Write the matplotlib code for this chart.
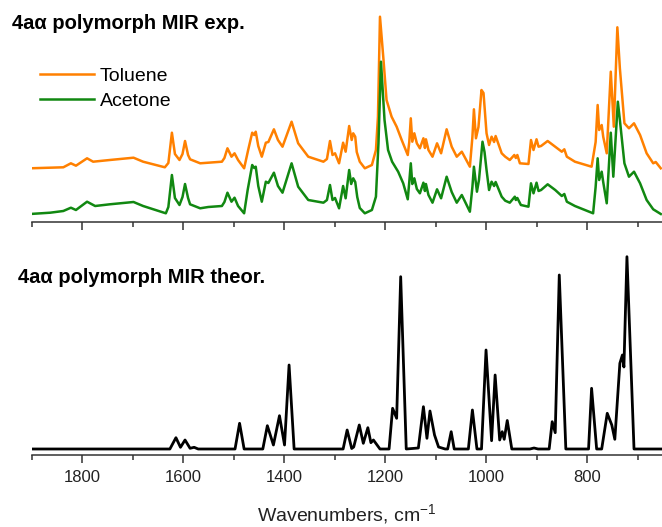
import matplotlib
matplotlib.use('Agg')
import matplotlib.pyplot as plt
from matplotlib.ticker import MultipleLocator

plt.rcParams['font.family'] = ['Liberation Sans', 'DejaVu Sans']
plt.rcParams['mathtext.fontset'] = 'custom'
plt.rcParams['mathtext.rm'] = 'Liberation Sans'
plt.rcParams['mathtext.it'] = 'Liberation Sans'

tol_wn = [1903, 1837, 1822, 1812, 1790, 1778, 1745, 1698, 1679, 1636, 1629, 1622, 1616, 1607,
          1601, 1596, 1590, 1586, 1566, 1523, 1518, 1512, 1504, 1498, 1491, 1479, 1471, 1463,
          1459, 1456, 1451, 1444, 1436, 1431, 1420, 1412, 1403, 1385, 1372, 1352, 1322, 1315,
          1309, 1304, 1299, 1291, 1283, 1278, 1271, 1266, 1263, 1259, 1256, 1250, 1240, 1226,
          1218, 1214, 1210, 1203, 1197, 1187, 1177, 1167, 1155, 1152, 1149, 1146, 1142, 1137,
          1131, 1124, 1121, 1119, 1114, 1106, 1097, 1089, 1078, 1068, 1058, 1048, 1032, 1027,
          1024, 1020, 1015, 1009, 1005, 999, 994, 989, 984, 981, 969, 962, 953, 944, 941, 938,
          933, 916, 911, 906, 900, 896, 891, 878, 863, 850, 845, 840, 824, 791, 783, 779, 776,
          771, 768, 761, 753, 747, 740, 735, 726, 717, 707, 695, 682, 669, 664, 654]
tol_abs = [53.7, 54.7, 58.7, 56.3, 63.7, 60.3, 62, 64.3, 60.3, 54.7, 59, 89.3, 68, 62,
           68, 81, 67, 62.7, 58.7, 60.3, 64, 73.7, 65.3, 68.7, 62, 53.7, 72, 89.3,
           87, 90.3, 76, 65.3, 79.3, 80, 92.7, 82, 75.3, 100.3, 78.7, 65.3, 60.3, 63,
           81, 67, 68.7, 58.7, 79.3, 70.3, 96, 82, 88.7, 85.3, 70, 60.3, 53.7, 57,
           72, 105.3, 205.3, 162, 122, 105.3, 95.3, 82, 67, 80, 103.7, 80.3, 88.7, 78.7,
           73.7, 83.7, 74, 82.7, 72, 65.3, 78.7, 68.7, 92.7, 75.3, 65.3, 70.3, 55.3, 85,
           112.7, 83.7, 95, 132, 129, 88.7, 77, 85.3, 80, 86, 68.7, 65.3, 62, 67, 64, 67,
           58.7, 58, 82, 72, 82.7, 75.3, 76, 81, 75.3, 70.3, 72.7, 65.3, 60.3, 55.3, 80, 117, 92,
           97, 85.3, 68.7, 150.3, 95.3, 194.7, 153.7, 98.7, 93.7, 98.7, 87, 68.7, 58.7, 60, 53.7]

ace_wn = [1903, 1863, 1837, 1822, 1812, 1790, 1774, 1745, 1698, 1679, 1634, 1629, 1622, 1616,
          1607, 1601, 1596, 1590, 1586, 1566, 1550, 1523, 1518, 1512, 1504, 1498, 1491, 1479,
          1472, 1463, 1459, 1456, 1451, 1444, 1436, 1431, 1420, 1412, 1403, 1385, 1372, 1352,
          1322, 1315, 1309, 1304, 1299, 1291, 1283, 1278, 1271, 1267, 1263, 1259, 1255, 1250,
          1240, 1226, 1218, 1213, 1208, 1201, 1194, 1186, 1174, 1164, 1155, 1152, 1149, 1146,
          1142, 1137, 1131, 1124, 1121, 1119, 1114, 1106, 1097, 1089, 1078, 1068, 1058, 1048,
          1032, 1027, 1024, 1018, 1014, 1007, 1003, 999, 994, 989, 984, 981, 969, 962, 953,
          943, 941, 938, 931, 916, 911, 906, 900, 896, 891, 878, 863, 850, 845, 840, 824, 788,
          783, 779, 776, 771, 768, 761, 753, 748, 739, 735, 726, 717, 707, 695, 682, 669, 654]
ace_abs = [8, 9.3, 11, 14.3, 12, 20.3, 16, 17.7, 20, 16, 8.7, 15, 47, 24,
           17, 25, 38, 24, 17.7, 13.7, 15, 16, 20, 29.3, 20.3, 24.3, 16, 8.7,
           32, 57, 54, 55.3, 36, 20.3, 40.3, 39, 49.3, 36, 29.3, 58.7, 35.3, 22,
           19.3, 22, 37, 22, 24, 13.7, 36, 23.7, 52, 38, 43.7, 40, 25, 14,
           8.7, 12, 25.3, 78.7, 160.3, 102, 72, 60.3, 50.3, 38.7, 22.7, 40, 58.7, 38,
           43.7, 33, 28.7, 39.3, 31, 38, 27, 19.3, 32.7, 23.7, 45.3, 30, 19.3, 27,
           10.3, 35, 55.3, 30.3, 42, 80.3, 70, 52, 32, 40.3, 36, 40, 25.3, 21.3, 19.3,
           25.3, 22, 24, 17, 15.3, 38.7, 28.7, 39.3, 31, 32, 37.7, 32, 26, 28, 20.3, 16, 8.7,
           35, 63.7, 42, 50.3, 40, 18.7, 89.3, 45.3, 120.3, 102, 58.7, 45.3, 50.3, 38.7, 22, 12.7, 8]

# theoretical spectrum
th_wn = [1899, 1626, 1614, 1605, 1596, 1586, 1578, 1570, 1497, 1488, 1479, 1442, 1433, 1421,
         1409, 1399, 1390, 1380, 1283, 1275, 1266, 1262, 1251, 1243, 1234, 1228, 1223, 1210,
         1192, 1185, 1177, 1169, 1158, 1134, 1124, 1117, 1111, 1102, 1094, 1081, 1076, 1069,
         1063, 1035, 1027, 1018, 1009, 1000, 989, 982, 973, 968, 964, 958, 949, 913, 905, 897,
         875, 869, 863, 855, 842, 797, 791, 781, 771, 760, 751, 745, 735, 730, 727, 721, 707, 652]
th_int = [6, 6, 17.3, 7.7, 15, 6.7, 7.7, 6, 6, 31.7, 6, 6, 29.3, 10,
          39.3, 10, 90, 6, 6, 25, 6.5, 8, 30, 11.7, 27.3, 12.3, 15, 6,
          6, 46.7, 36.7, 178.3, 6, 7, 48.3, 16.7, 44, 20, 8, 6, 6, 23.3,
          6, 6, 45, 6, 6, 105, 14.3, 80, 15, 23.3, 15.7, 34.5, 6, 6, 7, 6,
          6, 33.3, 22.3, 180, 6, 6, 66.7, 6, 6, 41.7, 30, 15.7, 91.7, 100, 88, 198.3, 6, 6]

W, H = 662, 527
fig = plt.figure(figsize=(W / 100, H / 100), dpi=100)
ax_top = fig.add_axes([31.5 / W, 305 / H, 631.3 / W, 212 / H])
ax_bot = fig.add_axes([31.5 / W, 72 / H, 631.3 / W, 205 / H])

ax_top.plot(tol_wn, tol_abs, color='#ff8000', lw=1.8, label='Toluene')
ax_top.plot(ace_wn, ace_abs, color='#118811', lw=1.8, label='Acetone')
ax_top.set_ylim(0, 212)
ax_bot.plot(th_wn, th_int, color='black', lw=2.0)
ax_bot.set_ylim(0, 205)

for ax in [ax_top, ax_bot]:
    ax.set_xlim(1900, 650)
    for s in ['top', 'left', 'right']:
        ax.spines[s].set_visible(False)
    ax.spines['bottom'].set_linewidth(1.1)
    ax.spines['bottom'].set_color('#333333')
    ax.set_yticks([])
    ax.xaxis.set_major_locator(MultipleLocator(200))
    ax.xaxis.set_minor_locator(MultipleLocator(100))
    ax.tick_params(axis='x', which='major', length=6, width=1.1, color='#333333',
                   labelsize=12, pad=5, labelcolor='#222222')
    ax.tick_params(axis='x', which='minor', length=3.5, width=1.1, color='#333333')
ax_top.tick_params(axis='x', labelbottom=False)

ax_bot.set_xlabel('Wavenumbers, cm$^{-1}$', fontsize=14, labelpad=12, color='#222222')

leg = ax_top.legend(loc='upper left', bbox_to_anchor=(8 / 631.3, 155 / 212), frameon=False,
                    fontsize=14, handlelength=2.8, handletextpad=0.3, labelspacing=0.4,
                    borderpad=0, borderaxespad=0)

fig.text(12 / W, 1 - 29 / H, '4a\u03b1 polymorph MIR exp.', fontsize=14.5, fontweight='bold')
fig.text(18 / W, 1 - 283 / H, '4a\u03b1 polymorph MIR theor.', fontsize=14.5, fontweight='bold')

fig.savefig('out.png', dpi=100)
